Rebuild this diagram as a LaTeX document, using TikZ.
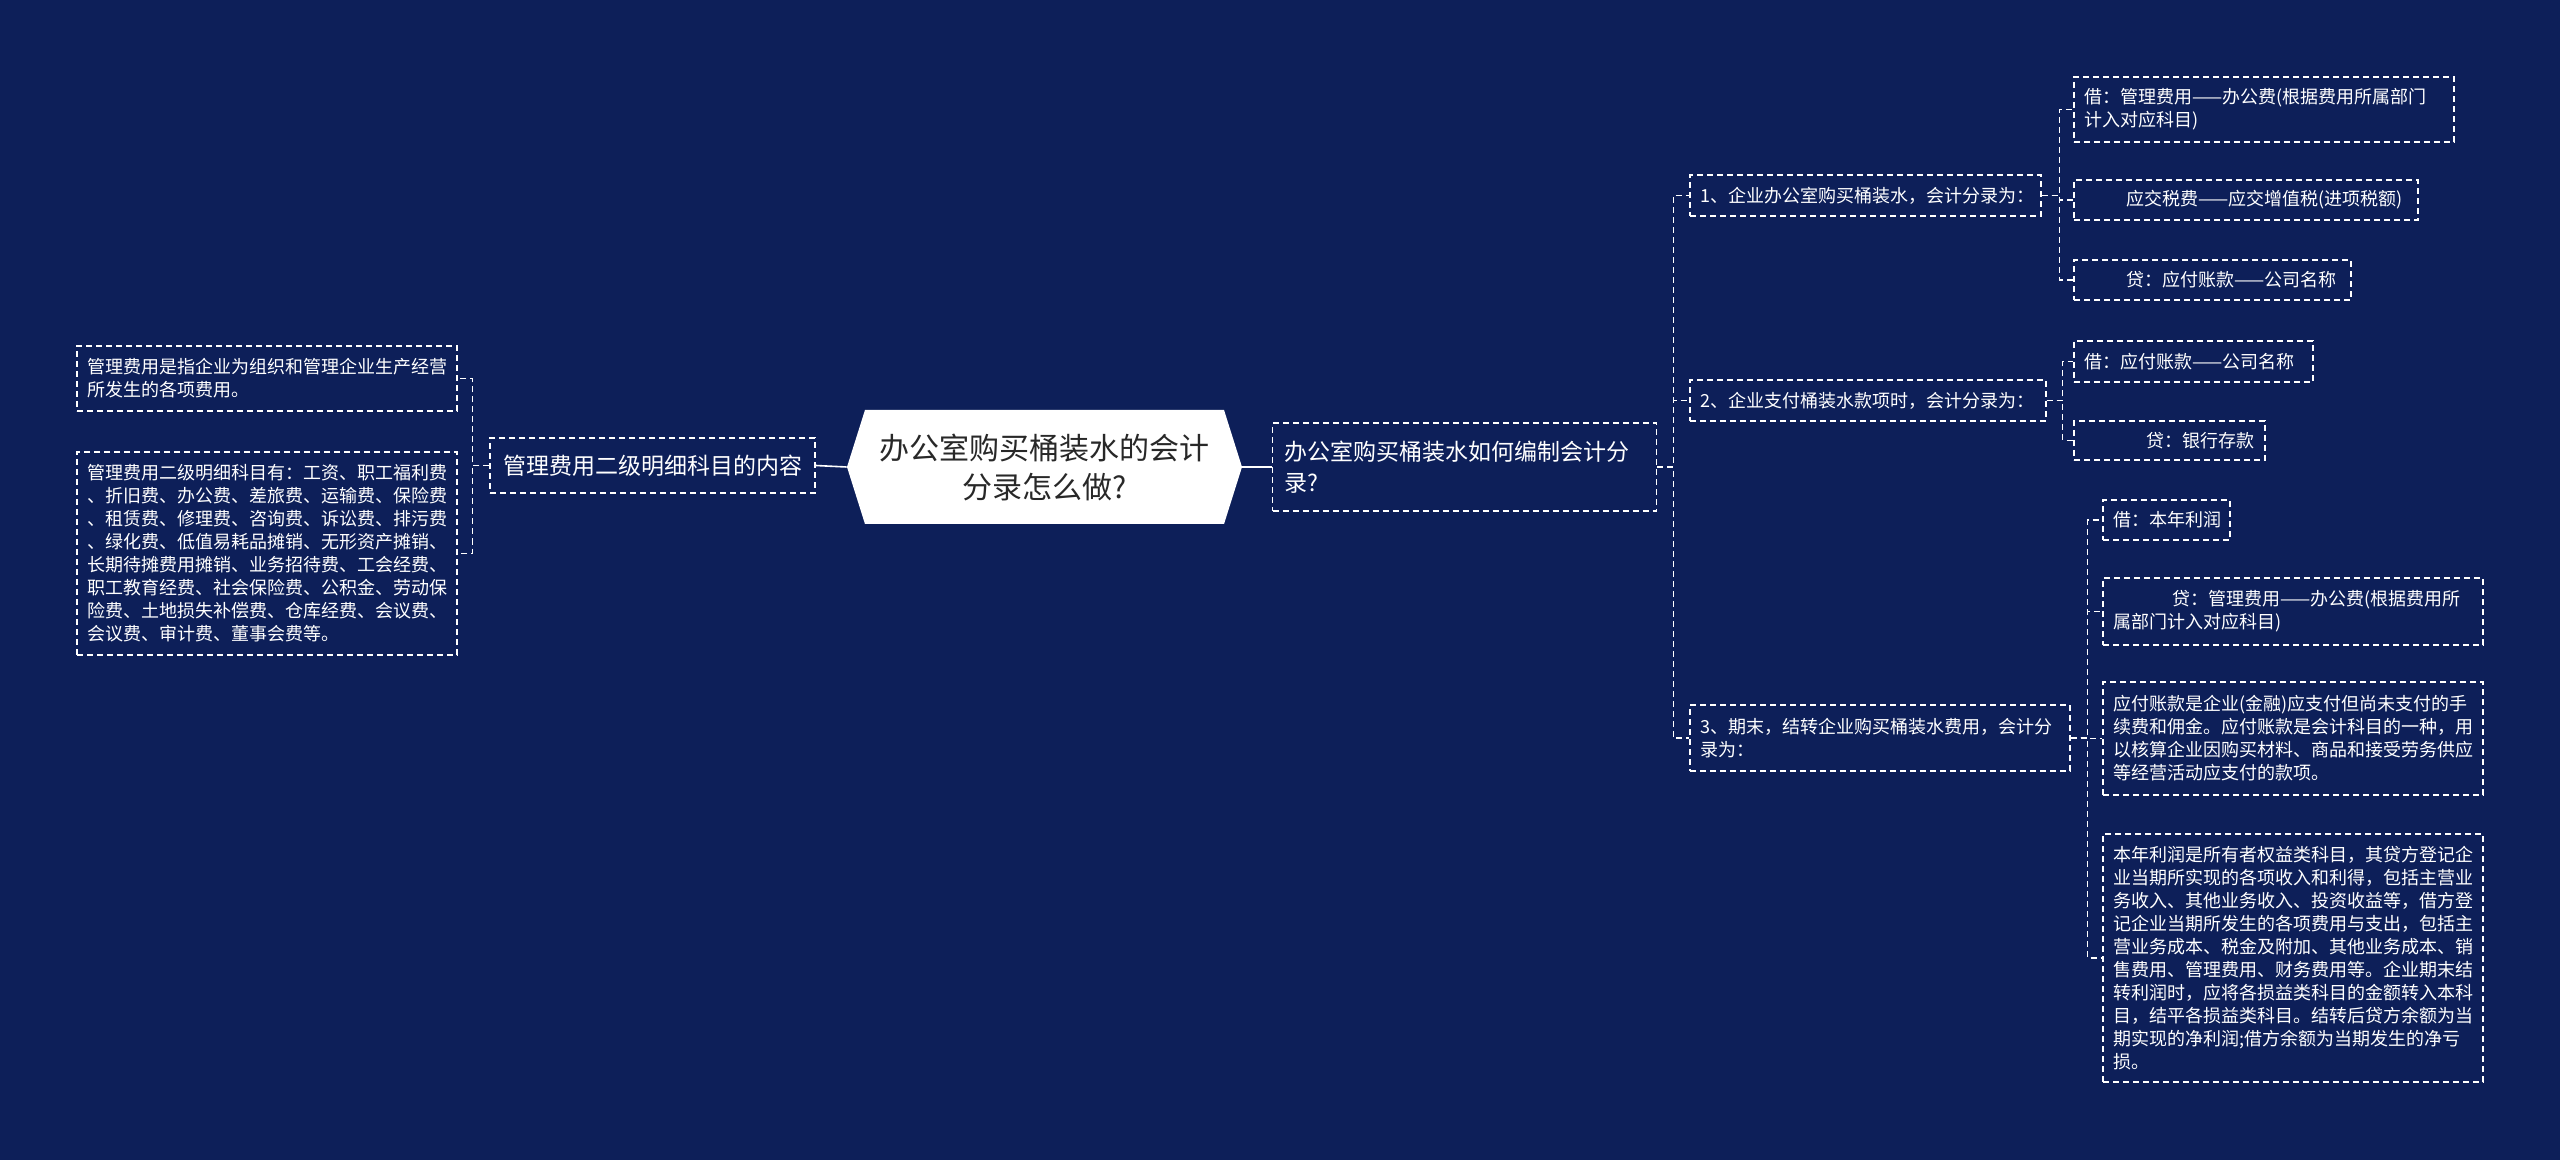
\documentclass[tikz,border=0pt]{standalone}
\usepackage{fontspec}
\setmainfont{Noto Sans CJK SC}
\usetikzlibrary{shapes.symbols}
\definecolor{navy}{RGB}{13,31,89}
\definecolor{ink}{RGB}{40,40,40}
\tikzstyle{Root} = [signal, signal to=east and west, signal pointer angle=145, fill=white, text=ink, align=center, font=\fontsize{15}{19.5}\selectfont, minimum width=197.5pt, minimum height=57pt]
\tikzstyle{Topic} = [draw=white, line width=0.7pt, dash pattern=on 3pt off 2pt, text=white, align=left, font=\fontsize{11.5}{15.5}\selectfont, inner xsep=6pt]
\tikzstyle{Leaf} = [draw=white, line width=0.7pt, dash pattern=on 3pt off 2pt, text=white, align=left, font=\fontsize{9}{11.5}\selectfont, inner xsep=5pt]
\tikzstyle{Link} = [draw=white, line width=0.7pt, dash pattern=on 3pt off 2pt]
\tikzstyle{Stem} = [draw=white, line width=0.8pt]

\begin{document}
\begin{tikzpicture}[x=0.5pt, y=-0.5pt]
    \useasboundingbox (0,0) rectangle (2560,1160);
    \fill[navy] (0,0) rectangle (2560,1160);

    \node[Root]  (root)  at (1044.5,467) {办公室购买桶装水的会计\\分录怎么做?};
    \node[Topic, minimum width=162.5pt, minimum height=27.5pt] (mgmt) at (652.5,465.5) {管理费用二级明细科目的内容};
    \node[Leaf, text width=180pt, minimum height=32.5pt] (def)   at (267,378.5) {管理费用是指企业为组织和管理企业生产经营\\所发生的各项费用。};
    \node[Leaf, text width=180pt, minimum height=101.5pt] (items) at (267,553.5) {管理费用二级明细科目有：工资、职工福利费\\、折旧费、办公费、差旅费、运输费、保险费\\、租赁费、修理费、咨询费、诉讼费、排污费\\、绿化费、低值易耗品摊销、无形资产摊销、\\长期待摊费用摊销、业务招待费、工会经费、\\职工教育经费、社会保险费、公积金、劳动保\\险费、土地损失补偿费、仓库经费、会议费、\\会议费、审计费、董事会费等。};

    \node[Topic, text width=180pt, minimum height=44pt] (howto) at (1464.5,467) {办公室购买桶装水如何编制会计分\\录?};
    \node[Leaf, text width=165.5pt, minimum height=20.5pt] (s1) at (1865.5,195.5) {1、企业办公室购买桶装水，会计分录为：};
    \node[Leaf, text width=168pt, minimum height=20.5pt]   (s2) at (1868,400.5)   {2、企业支付桶装水款项时，会计分录为：};
    \node[Leaf, text width=180pt, minimum height=33pt]     (s3) at (1880,738)     {3、期末，结转企业购买桶装水费用，会计分\\录为：};

    \node[Leaf, text width=180pt, minimum height=32.5pt] (a1) at (2264,109.5) {借：管理费用——办公费(根据费用所属部门\\计入对应科目)};
    \node[Leaf, text width=162pt, minimum height=20pt]   (a2) at (2246,200)   {\hspace*{21pt}应交税费——应交增值税(进项税额)};
    \node[Leaf, text width=128.5pt, minimum height=20pt] (a3) at (2212.5,280) {\hspace*{21pt}贷：应付账款——公司名称};

    \node[Leaf, text width=109.5pt, minimum height=20.5pt] (b1) at (2193.5,361.5) {借：应付账款——公司名称};
    \node[Leaf, text width=85.5pt, minimum height=19.5pt]  (b2) at (2169.5,440.5) {\hspace*{31pt}贷：银行存款};

    \node[Leaf, text width=53.5pt, minimum height=20pt]  (c1) at (2166.5,520) {借：本年利润};
    \node[Leaf, text width=180pt, minimum height=33.5pt] (c2) at (2293,611.5) {\hspace*{29.5pt}贷：管理费用——办公费(根据费用所\\属部门计入对应科目)};
    \node[Leaf, text width=180pt, minimum height=56.5pt] (c3) at (2293,738.5) {应付账款是企业(金融)应支付但尚未支付的手\\续费和佣金。应付账款是会计科目的一种，用\\以核算企业因购买材料、商品和接受劳务供应\\等经营活动应支付的款项。};
    \node[Leaf, text width=180pt, minimum height=124pt]  (c4) at (2293,958)   {本年利润是所有者权益类科目，其贷方登记企\\业当期所实现的各项收入和利得，包括主营业\\务收入、其他业务收入、投资收益等，借方登\\记企业当期所发生的各项费用与支出，包括主\\营业务成本、税金及附加、其他业务成本、销\\售费用、管理费用、财务费用等。企业期末结\\转利润时，应将各损益类科目的金额转入本科\\目，结平各损益类科目。结转后贷方余额为当\\期实现的净利润;借方余额为当期发生的净亏\\损。};

    \draw[Stem] (root.west) -- (mgmt.east);
    \draw[Stem] (root.east) -- (howto.west);
    \draw[Link] (mgmt.west) -- ++(-17,0) |- (def.east);
    \draw[Link] (mgmt.west) -- ++(-17,0) |- (items.east);
    \draw[Link] (howto.east) -- ++(16,0) |- (s1.west);
    \draw[Link] (howto.east) -- ++(16,0) |- (s2.west);
    \draw[Link] (howto.east) -- ++(16,0) |- (s3.west);
    \draw[Link] (s1.east) -- ++(18,0) |- (a1.west);
    \draw[Link] (s1.east) -- ++(18,0) |- (a2.west);
    \draw[Link] (s1.east) -- ++(18,0) |- (a3.west);
    \draw[Link] (s2.east) -- ++(16,0) |- (b1.west);
    \draw[Link] (s2.east) -- ++(16,0) |- (b2.west);
    \draw[Link] (s3.east) -- ++(17,0) |- (c1.west);
    \draw[Link] (s3.east) -- ++(17,0) |- (c2.west);
    \draw[Link] (s3.east) -- ++(17,0) |- (c3.west);
    \draw[Link] (s3.east) -- ++(17,0) |- (c4.west);
\end{tikzpicture}
\end{document}
